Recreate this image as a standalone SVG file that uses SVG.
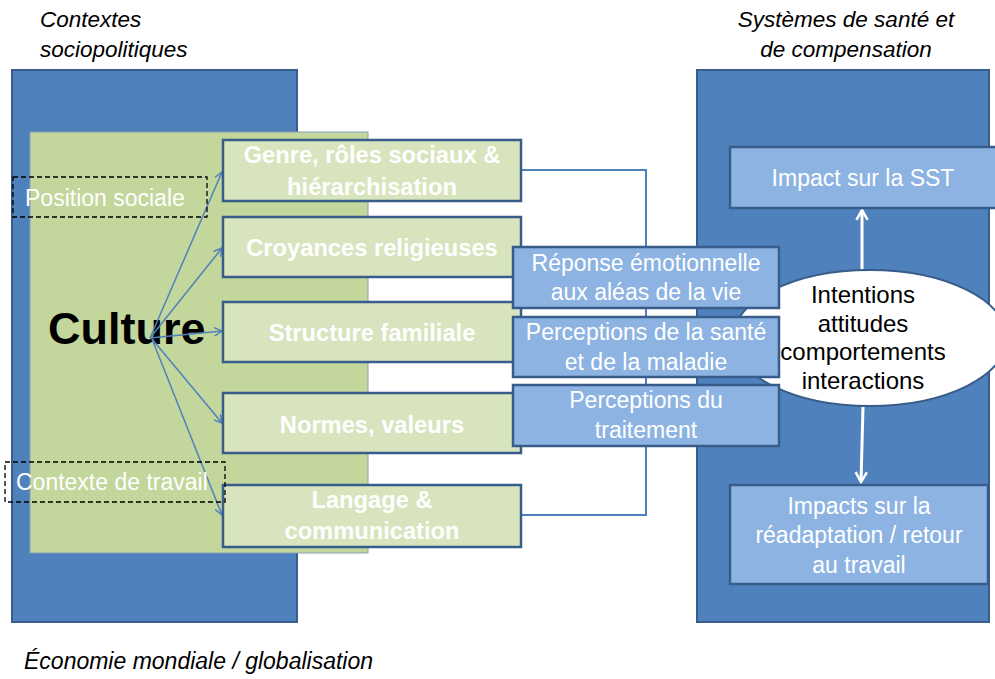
<svg xmlns="http://www.w3.org/2000/svg" width="995" height="679" viewBox="0 0 995 679">
<style>
text{font-family:"Liberation Sans",Arial,sans-serif}
.title{font-size:22.5px;font-style:italic;fill:#000}
.panel{fill:#4f81bd;stroke:#385d8a;stroke-width:2}
.gbox{fill:#d7e4bd;stroke:#385d8a;stroke-width:2.5}
.gt{font-size:23.7px;font-weight:bold;fill:#fff;text-anchor:middle}
.bbox{fill:#8db3e2;stroke:#385d8a;stroke-width:2.5}
.bt{font-size:23px;fill:#fff;text-anchor:middle}
.dash{fill:none;stroke:#000;stroke-width:1.3;stroke-dasharray:5 3}
.lt{font-size:23px;fill:#fff}
.et{font-size:24px;fill:#000;text-anchor:middle}
.ar{fill:none;stroke:#4f81bd;stroke-width:1.5}
.wa{fill:none;stroke:#fff;stroke-width:3}
</style>
<defs>
<marker id="ah" viewBox="0 0 10 10" refX="9" refY="5" markerWidth="9" markerHeight="9" markerUnits="userSpaceOnUse" orient="auto"><path d="M0,0 L9,5 L0,10" fill="none" stroke="#4f81bd" stroke-width="1.6"/></marker>
<marker id="wh" viewBox="0 0 10 10" refX="8" refY="5" markerWidth="14" markerHeight="14" markerUnits="userSpaceOnUse" orient="auto"><path d="M1,1 L8,5 L1,9" fill="none" stroke="#fff" stroke-width="1.8"/></marker>
</defs>
<rect width="995" height="679" fill="#fff"/>
<g id="titles">
<text class="title" x="40" y="27">Contextes</text>
<text class="title" x="40" y="57">sociopolitiques</text>
<text class="title" x="846" y="27" text-anchor="middle">Systèmes de santé et</text>
<text class="title" x="846" y="57" text-anchor="middle">de compensation</text>
<text class="title" x="24" y="669" style="font-size:23px">Économie mondiale / globalisation</text>
</g>
<g id="left-panel"><rect class="panel" x="12" y="70" width="285" height="552"/></g>
<g id="right-panel"><rect class="panel" x="697" y="70" width="292" height="552"/></g>
<g id="culture">
<rect x="30" y="132" width="338" height="421" fill="#c3d69b" stroke="#8aa0b8" stroke-width="1"/>
<text x="48" y="344" font-size="45" font-weight="bold" fill="#000">Culture</text>
</g>
<g id="ellipse">
<ellipse cx="870" cy="338" rx="137" ry="68" fill="#fff" stroke="#385d8a" stroke-width="2"/>
<text class="et" x="863" y="303">Intentions</text>
<text class="et" x="863" y="332">attitudes</text>
<text class="et" x="863" y="360">comportements</text>
<text class="et" x="863" y="389">interactions</text>
</g>
<g id="connectors">
<polyline points="521,170 646,170 646,515 521,515" fill="none" stroke="#4f81bd" stroke-width="2"/>
<line class="ar" x1="150" y1="338" x2="222" y2="172" marker-end="url(#ah)"/>
<line class="ar" x1="150" y1="338" x2="222" y2="248" marker-end="url(#ah)"/>
<line class="ar" x1="150" y1="338" x2="222" y2="331" marker-end="url(#ah)"/>
<line class="ar" x1="152" y1="339" x2="222" y2="423" marker-end="url(#ah)"/>
<line class="ar" x1="152" y1="339" x2="222" y2="515" marker-end="url(#ah)"/>
<line class="wa" x1="862" y1="269" x2="862" y2="210" marker-end="url(#wh)"/>
<line class="wa" x1="863" y1="407" x2="861" y2="482" marker-end="url(#wh)"/>
</g>
<g id="genre"><rect class="gbox" x="223" y="140" width="298" height="61"/>
<text class="gt" x="372" y="163">Genre, rôles sociaux &amp;</text>
<text class="gt" x="372" y="195">hiérarchisation</text></g>
<g id="croyances"><rect class="gbox" x="223" y="217" width="298" height="60"/>
<text class="gt" x="372" y="256">Croyances religieuses</text></g>
<g id="structure"><rect class="gbox" x="223" y="302" width="298" height="60"/>
<text class="gt" x="372" y="341">Structure familiale</text></g>
<g id="normes"><rect class="gbox" x="223" y="393" width="298" height="60"/>
<text class="gt" x="372" y="433">Normes, valeurs</text></g>
<g id="langage"><rect class="gbox" x="223" y="485" width="298" height="62"/>
<text class="gt" x="372" y="508">Langage &amp;</text>
<text class="gt" x="372" y="539">communication</text></g>
<g id="reponse"><rect class="bbox" x="513" y="247" width="266" height="61"/>
<text class="bt" x="646" y="271">Réponse émotionnelle</text>
<text class="bt" x="646" y="300">aux aléas de la vie</text></g>
<g id="perc-sante"><rect class="bbox" x="513" y="317" width="266" height="60"/>
<text class="bt" x="646" y="340">Perceptions de la santé</text>
<text class="bt" x="646" y="370">et de la maladie</text></g>
<g id="perc-trait"><rect class="bbox" x="513" y="385" width="266" height="61"/>
<text class="bt" x="646" y="408">Perceptions du</text>
<text class="bt" x="646" y="438">traitement</text></g>
<g id="impact-sst"><rect class="bbox" x="730" y="147" width="268" height="61"/>
<text class="bt" x="863" y="186">Impact sur la SST</text></g>
<g id="impacts-readapt"><rect class="bbox" x="730" y="485" width="258" height="99"/>
<text class="bt" x="859" y="514">Impacts sur la</text>
<text class="bt" x="859" y="543">réadaptation / retour</text>
<text class="bt" x="859" y="573">au travail</text></g>
<g id="position-sociale"><rect class="dash" x="13" y="177" width="194" height="40"/>
<text class="lt" x="25" y="206">Position sociale</text></g>
<g id="contexte-travail"><rect class="dash" x="5" y="462" width="220" height="40"/>
<text class="lt" x="16" y="490">Contexte de travail</text></g>
</svg>
